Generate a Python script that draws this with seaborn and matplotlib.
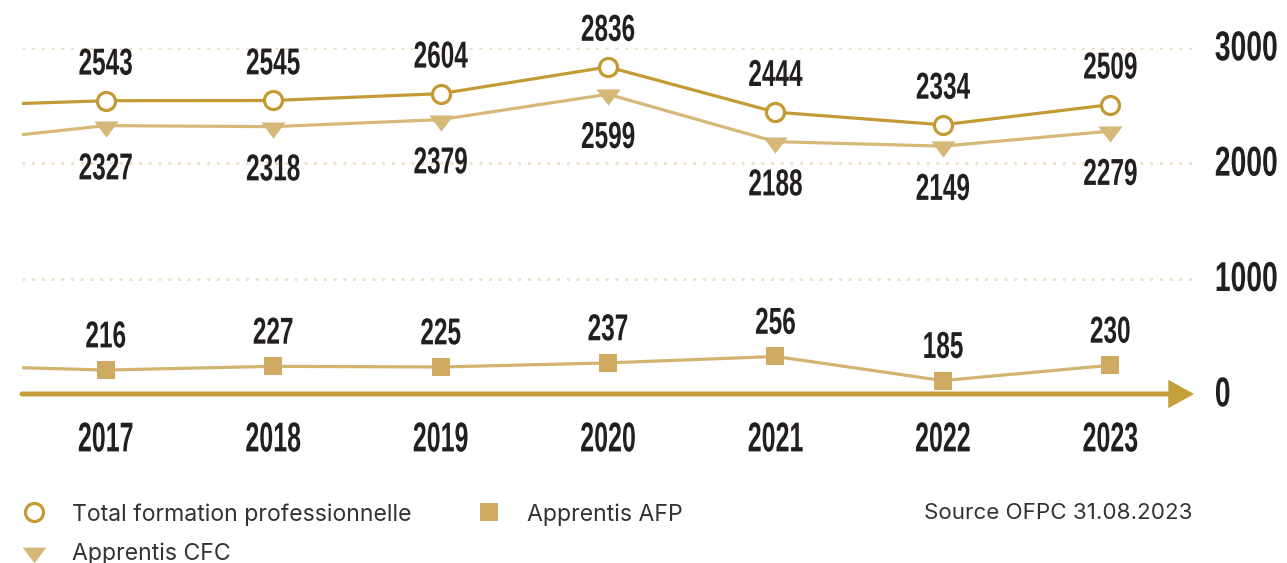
import matplotlib
matplotlib.use("Agg")
import matplotlib.pyplot as plt
from matplotlib.lines import Line2D
from matplotlib.patheffects import AbstractPathEffect
from matplotlib.transforms import Affine2D
import seaborn as sns
import pandas as pd

# ---- data (2016 values only enter from the left edge, unlabeled) ----
years = [2016, 2017, 2018, 2019, 2020, 2021, 2022, 2023]
total = [2495, 2543, 2545, 2604, 2836, 2444, 2334, 2509]
cfc = [2170, 2327, 2318, 2379, 2599, 2188, 2149, 2279]
afp = [230, 216, 227, 225, 237, 256, 185, 230]
yticks = [0, 1000, 2000, 3000]
legend_labels = ["Total formation professionnelle", "Apprentis CFC", "Apprentis AFP"]
source_text = "Source OFPC 31.08.2023"

C_TOTAL = "#C49A34"
C_CFC = "#D6B878"
C_AFP_LINE = "#D3B370"
C_AFP_MARK = "#CFAA62"
C_AXIS = "#C4A03A"
C_GRID = "#EEDFC0"
C_TEXT = "#231F20"

sns.set_theme(style="white")
plt.rcParams["font.family"] = ["Liberation Sans", "DejaVu Sans"]

NUM_FONT = ["Liberation Sans", "DejaVu Sans"]
LEG_FONT = ["Inter", "DejaVu Sans"]


class Squash(AbstractPathEffect):
    """Rescale glyph outlines to imitate a condensed display face."""

    def __init__(self, sx, sy=1.0, anchor="center"):
        super().__init__()
        self.sx = sx
        self.sy = sy
        self.anchor = anchor

    def draw_path(self, renderer, gc, tpath, affine, rgbFace=None):
        ext = tpath.get_extents()
        cx = (ext.x0 + ext.x1) / 2 if self.anchor == "center" else 0.0
        cy = (ext.y0 + ext.y1) / 2
        t = (Affine2D().translate(-cx, -cy).scale(self.sx, self.sy)
             .translate(cx, cy) + affine)
        renderer.draw_path(gc, tpath, t, rgbFace)


df = pd.DataFrame({"year": years, "total": total, "cfc": cfc, "afp": afp})

fig = plt.figure(figsize=(12.87, 5.63), dpi=100)
ax = fig.add_axes([22 / 1287, (563 - 394) / 563, (1194 - 22) / 1287, 346 / 563])
ax2 = ax.twinx()

tri = [(-12, 5), (12, 5), (0, -11)]

sns.lineplot(data=df, x="year", y="total", ax=ax, color=C_TOTAL, lw=2.3,
             marker="o", markersize=13, markerfacecolor="white",
             markeredgecolor=C_TOTAL, markeredgewidth=2.3, zorder=4)
sns.lineplot(data=df, x="year", y="cfc", ax=ax, color=C_CFC, lw=2.3,
             marker=tri, markersize=17.5, markerfacecolor=C_CFC,
             markeredgewidth=0, zorder=3)
sns.lineplot(data=df, x="year", y="afp", ax=ax2, color=C_AFP_LINE, lw=2.3,
             marker="s", markersize=13, markerfacecolor=C_AFP_MARK,
             markeredgewidth=0, zorder=3)

ax.set_xlim(2016.5, 2023.5)
ax.set_ylim(0, 3000)
ax2.set_ylim(145.6, 1163)
ax2.set_axis_off()

for s in ax.spines.values():
    s.set_visible(False)

ax.set_xlabel("")
ax.set_ylabel("")
ax.set_xticks(years[1:])
ax.set_xticklabels([str(y) for y in years[1:]], fontsize=30, color=C_TEXT,
                   family=NUM_FONT, fontweight="bold")
ax.tick_params(axis="x", length=0, pad=19)
for lbl in ax.get_xticklabels():
    lbl.set_path_effects([Squash(0.6)])

ax.yaxis.tick_right()
ax.set_yticks(yticks)
ax.set_yticklabels([str(t) for t in yticks], fontsize=21, color=C_TEXT,
                   family=NUM_FONT, fontweight="bold")
ax.tick_params(axis="y", length=0, pad=15)
for lbl in ax.get_yticklabels():
    lbl.set_va("center")
    lbl.set_path_effects([Squash(0.97, 1.43, anchor="left")])

ax.yaxis.grid(True, linestyle=(0, (1, 2.5)), color=C_GRID, lw=2)
ax.xaxis.grid(False)
ax.set_axisbelow(True)
ax.get_ygridlines()[0].set_visible(False)

# axis arrow
ax.annotate("", xy=(1, 0), xytext=(0, 0), xycoords=("axes fraction", "data"),
            textcoords=("axes fraction", "data"), annotation_clip=False,
            arrowprops=dict(arrowstyle="-|>,head_length=0.65,head_width=0.36",
                            mutation_scale=20, lw=3.6, color=C_AXIS,
                            shrinkA=0, shrinkB=0, joinstyle="miter"),
            zorder=5)

lab_kw = dict(textcoords="offset points", ha="center", va="center",
              fontsize=27, color=C_TEXT, family=NUM_FONT, fontweight="bold",
              annotation_clip=False, zorder=6,
              path_effects=[Squash(0.65)])
for yr, t, c in zip(years[1:], total[1:], cfc[1:]):
    ax.annotate(str(t), xy=(yr, t), xytext=(0, 26), **lab_kw)
    ax.annotate(str(c), xy=(yr, c), xytext=(0, -31.5), **lab_kw)
for yr, a in zip(years[1:], afp[1:]):
    ax2.annotate(str(a), xy=(yr, a), xytext=(0, 23.5), **lab_kw)

# legend
handles = [
    Line2D([], [], ls="none", marker="o", markersize=13, markerfacecolor="white",
           markeredgecolor=C_TOTAL, markeredgewidth=2.3),
    Line2D([], [], ls="none", marker=tri, markersize=17, markerfacecolor=C_CFC,
           markeredgewidth=0),
    Line2D([], [], ls="none", marker="s", markersize=13, markerfacecolor=C_AFP_MARK,
           markeredgewidth=0),
]
fig.legend(handles, legend_labels, loc="upper left", ncol=2,
           bbox_to_anchor=(21 / 1287, 1 - 503 / 563), frameon=False,
           borderpad=0, borderaxespad=0, handlelength=1.1, handletextpad=1.12,
           columnspacing=2.8, labelspacing=0.72,
           prop=dict(family=LEG_FONT, size=16.6), labelcolor="#333333")

fig.text(1193 / 1287, 1 - 513 / 563, source_text, ha="right", va="center",
         fontsize=16.1, family=LEG_FONT, color="#333333")

fig.savefig("out.png", dpi=100, facecolor="white")
